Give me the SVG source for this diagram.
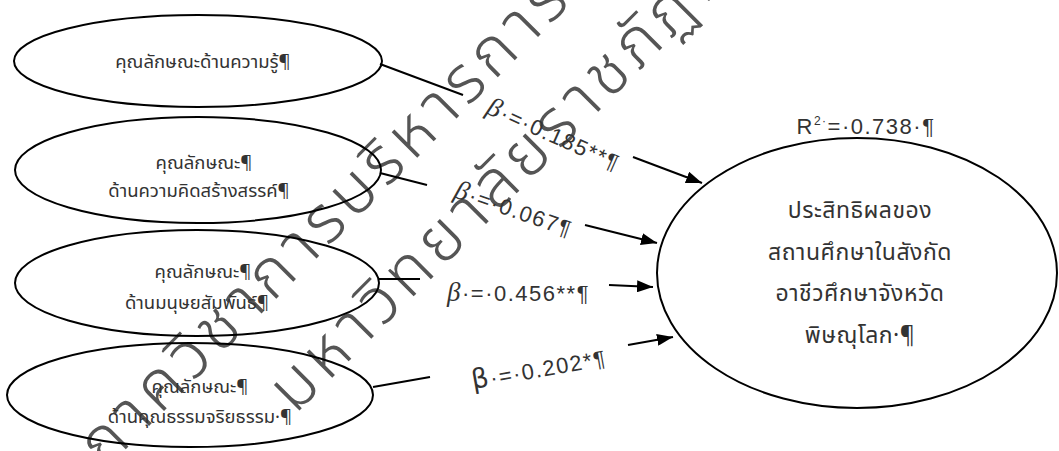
<svg xmlns="http://www.w3.org/2000/svg" width="1059" height="451" viewBox="0 0 1059 451">
<defs>
<style>
.node ellipse{fill:none;stroke:#000;stroke-width:2}
.th{font-family:"Noto Sans Thai","Noto Sans","DejaVu Sans",sans-serif;fill:#333;font-size:18.5px;text-anchor:middle}
.big{font-size:23px;letter-spacing:0.5px}
.lbl{font-family:"Liberation Sans","DejaVu Sans",sans-serif;fill:#333;font-size:22px;letter-spacing:1.5px}
.beta{font-family:"Liberation Serif","DejaVu Serif",serif;font-style:italic;font-size:27px}
.wm{font-family:"Noto Sans Thai","Noto Serif Thai",sans-serif;font-size:66px;font-weight:300;letter-spacing:6px;fill:#555}
.conn line{stroke:#000;stroke-width:2}
</style>
<marker id="a" viewBox="0 0 16 12" refX="16" refY="6" markerWidth="16" markerHeight="12" markerUnits="userSpaceOnUse" orient="auto">
<path d="M0,0 L16,6 L0,12 z" fill="#000"/>
</marker>
</defs>
<rect width="1059" height="451" fill="#fff"/>

<g id="watermark">
<text class="wm" transform="translate(105,470) rotate(-45)">ภาควิชาการบริหารการศึกษา</text>
<text class="wm" transform="translate(295,415) rotate(-45)">มหาวิทยาลัยราชภัฏพิบูลสงคราม</text>
</g>

<g id="n1" class="node">
<ellipse cx="198" cy="61" rx="184" ry="46"/>
<text class="th" x="203" y="68">คุณลักษณะด้านความรู้¶</text>
</g>
<g id="n2" class="node">
<ellipse cx="198" cy="170" rx="183" ry="53"/>
<text class="th" x="204" y="169">คุณลักษณะ¶</text>
<text class="th" x="199" y="197">ด้านความคิดสร้างสรรค์¶</text>
</g>
<g id="n3" class="node">
<ellipse cx="197" cy="283" rx="182" ry="53"/>
<text class="th" x="203" y="278">คุณลักษณะ¶</text>
<text class="th" x="197" y="309">ด้านมนุษยสัมพันธ์¶</text>
</g>
<g id="n4" class="node">
<ellipse cx="190" cy="395" rx="183" ry="52"/>
<text class="th" x="200" y="393">คุณลักษณะ¶</text>
<text class="th" x="200" y="423">ด้านคุณธรรมจริยธรรม·¶</text>
</g>
<g id="n5" class="node">
<ellipse cx="857" cy="273" rx="200" ry="135"/>
<text class="th big" x="860" y="218">ประสิทธิผลของ</text>
<text class="th big" x="860" y="260">สถานศึกษาในสังกัด</text>
<text class="th big" x="860" y="301">อาชีวศึกษาจังหวัด</text>
<text class="th big" x="860" y="343">พิษณุโลก·¶</text>
</g>
<text class="lbl" x="866" y="134" text-anchor="middle" font-size="20" letter-spacing="1">R<tspan font-size="12" dy="-9">2·</tspan><tspan dy="9">=·0.738·¶</tspan></text>

<g id="connectors" class="conn">
<line x1="380" y1="64" x2="463" y2="95"/>
<line x1="633" y1="157" x2="702" y2="183" marker-end="url(#a)"/>
<line x1="380" y1="173" x2="427" y2="185"/>
<line x1="585" y1="225" x2="657" y2="243" marker-end="url(#a)"/>
<line x1="378" y1="279" x2="420" y2="279"/>
<line x1="609" y1="285" x2="653" y2="287" marker-end="url(#a)"/>
<line x1="373" y1="387" x2="430" y2="377"/>
<line x1="628" y1="345" x2="673" y2="337" marker-end="url(#a)"/>
</g>

<g id="labels">
<text class="lbl" transform="translate(485,113) rotate(24)"><tspan class="beta">β</tspan>·=·0.185**¶</text>
<text class="lbl" transform="translate(453,197) rotate(19)"><tspan class="beta">β</tspan>·=·0.067¶</text>
<text class="lbl" x="447" y="301"><tspan class="beta">β</tspan>·=·0.456**¶</text>
<text class="lbl" transform="translate(473,389) rotate(-10)"><tspan font-size="27" font-family="DejaVu Sans">β</tspan>·=·0.202*¶</text>
</g>
</svg>
